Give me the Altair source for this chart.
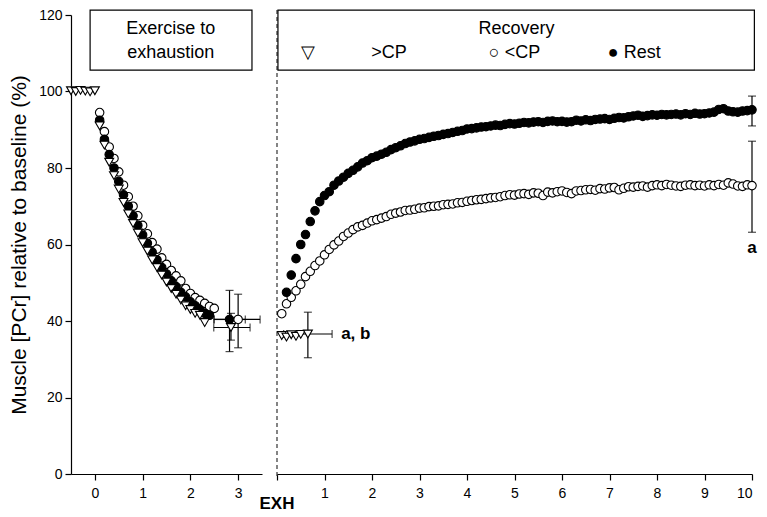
import altair as alt
import pandas as pd

# ---------------- data ----------------
# Exercise-to-exhaustion panel (time, min)
ex_base_x = [-0.5, -0.4, -0.3, -0.2, -0.1, 0.0]
ex_base_tri = [100.2, 100.0, 100.3, 100.1, 99.9, 100.2]

ex_x_open = [0.1, 0.2, 0.3, 0.4, 0.5, 0.6, 0.7, 0.8, 0.9, 1.0, 1.1, 1.2, 1.3,
             1.4, 1.5, 1.6, 1.7, 1.8, 1.9, 2.0, 2.1, 2.2, 2.3, 2.4, 2.5]
ex_open = [94.5, 89.5, 85.5, 82.5, 79.0, 75.5, 72.5, 70.0, 67.5, 65.0, 62.8, 60.5, 58.8,
           56.5, 54.8, 53.2, 51.8, 50.5, 48.5, 47.2, 46.1, 45.4, 44.6, 43.8, 43.3]
ex_x_fill = [0.1, 0.2, 0.3, 0.4, 0.5, 0.6, 0.7, 0.8, 0.9, 1.0, 1.1, 1.2, 1.3,
             1.4, 1.5, 1.6, 1.7, 1.8, 1.9, 2.0, 2.1, 2.2, 2.3, 2.4]
ex_fill = [92.5, 87.5, 83.5, 80.0, 76.5, 73.0, 70.0, 67.5, 65.0, 62.5, 60.3, 58.0, 56.0,
           54.0, 52.3, 50.5, 49.0, 47.5, 46.3, 45.0, 44.0, 43.0, 42.0, 41.5]
ex_x_tri = [0.1, 0.2, 0.3, 0.4, 0.5, 0.6, 0.7, 0.8, 0.9, 1.0, 1.1, 1.2, 1.3,
            1.4, 1.5, 1.6, 1.7, 1.8, 1.9, 2.0, 2.1, 2.2, 2.3]
ex_tri = [91.0, 86.0, 81.5, 78.0, 74.5, 71.0, 68.0, 65.5, 63.0, 60.5, 58.3, 56.0, 54.0,
          52.0, 50.2, 48.5, 47.0, 45.5, 44.0, 43.0, 42.0, 41.5, 39.6]

# exhaustion means with SD (x = time to exhaustion, y = PCr)
exh_group = ["open", "fill", "tri"]
exh_x = [3.0, 2.82, 2.85]
exh_x_lo = [2.49, 2.5, 2.49]
exh_x_hi = [3.46, 3.15, 3.25]
exh_y = [40.4, 40.4, 38.3]
exh_y_lo = [33.0, 32.0, 35.0]
exh_y_hi = [47.0, 48.0, 42.0]

# Recovery panel (time after exhaustion, min)
rec_x_open = [0.1, 0.2, 0.3, 0.4, 0.5, 0.6, 0.7, 0.8, 0.9, 1.0,
              1.1, 1.2, 1.3, 1.4, 1.5, 1.6, 1.7, 1.8, 1.9, 2.0,
              2.1, 2.2, 2.3, 2.4, 2.5, 2.6, 2.7, 2.8, 2.9, 3.0,
              3.1, 3.2, 3.3, 3.4, 3.5, 3.6, 3.7, 3.8, 3.9, 4.0,
              4.1, 4.2, 4.3, 4.4, 4.5, 4.6, 4.7, 4.8, 4.9, 5.0,
              5.1, 5.2, 5.3, 5.4, 5.5, 5.6, 5.7, 5.8, 5.9, 6.0,
              6.1, 6.2, 6.3, 6.4, 6.5, 6.6, 6.7, 6.8, 6.9, 7.0,
              7.1, 7.2, 7.3, 7.4, 7.5, 7.6, 7.7, 7.8, 7.9, 8.0,
              8.1, 8.2, 8.3, 8.4, 8.5, 8.6, 8.7, 8.8, 8.9, 9.0,
              9.1, 9.2, 9.3, 9.4, 9.5, 9.6, 9.7, 9.8, 9.9, 10.0]
rec_open = [41.9, 44.5, 46.2, 47.9, 49.6, 51.6, 53.0, 54.5, 55.7, 57.3,
            58.7, 59.9, 60.9, 62.1, 63.0, 63.9, 64.6, 65.0, 65.6, 66.2,
            66.5, 66.9, 67.3, 67.9, 68.2, 68.5, 68.9, 69.0, 69.2, 69.5,
            69.6, 69.9, 70.0, 70.1, 70.4, 70.5, 70.6, 70.9, 71.0, 71.3,
            71.5, 71.7, 71.8, 72.0, 72.2, 72.3, 72.5, 72.8, 73.0, 72.9,
            73.2, 73.3, 73.1, 73.5, 73.4, 72.8, 73.7, 73.5, 73.8, 74.0,
            73.6, 73.3, 74.0, 74.1, 74.3, 74.4, 74.2, 74.6, 74.5, 74.8,
            74.9, 74.3, 74.7, 75.1, 75.0, 75.2, 75.3, 75.0, 75.4, 75.6,
            75.4, 75.7, 75.5, 75.3, 75.2, 75.5, 75.6, 75.4, 75.5, 75.3,
            75.6, 75.4, 75.7, 75.5, 76.1, 75.8, 75.3, 75.2, 75.6, 75.4]
rec_x_fill = [0.2, 0.3, 0.4, 0.5, 0.6, 0.7, 0.8, 0.9, 1.0,
              1.1, 1.2, 1.3, 1.4, 1.5, 1.6, 1.7, 1.8, 1.9, 2.0,
              2.1, 2.2, 2.3, 2.4, 2.5, 2.6, 2.7, 2.8, 2.9, 3.0,
              3.1, 3.2, 3.3, 3.4, 3.5, 3.6, 3.7, 3.8, 3.9, 4.0,
              4.1, 4.2, 4.3, 4.4, 4.5, 4.6, 4.7, 4.8, 4.9, 5.0,
              5.1, 5.2, 5.3, 5.4, 5.5, 5.6, 5.7, 5.8, 5.9, 6.0,
              6.1, 6.2, 6.3, 6.4, 6.5, 6.6, 6.7, 6.8, 6.9, 7.0,
              7.1, 7.2, 7.3, 7.4, 7.5, 7.6, 7.7, 7.8, 7.9, 8.0,
              8.1, 8.2, 8.3, 8.4, 8.5, 8.6, 8.7, 8.8, 8.9, 9.0,
              9.1, 9.2, 9.3, 9.4, 9.5, 9.6, 9.7, 9.8, 9.9, 10.0]
rec_fill = [47.5, 52.0, 56.3, 60.0, 62.6, 66.0, 68.8, 71.2, 72.8,
            73.8, 75.5, 76.6, 77.6, 78.6, 79.4, 80.3, 81.3, 81.9, 82.7,
            83.1, 83.6, 84.1, 84.8, 85.3, 85.8, 86.4, 86.8, 87.1, 87.5,
            87.7, 88.0, 88.3, 88.5, 88.8, 89.0, 89.3, 89.6, 89.8, 90.2,
            90.3, 90.5, 90.7, 90.8, 91.0, 91.2, 91.1, 91.4, 91.6, 91.5,
            91.7, 91.9, 91.8, 92.0, 92.1, 91.9, 92.2, 92.3, 92.1, 92.2,
            92.0, 92.1, 92.5, 92.3, 92.6, 92.4, 92.7, 92.8, 92.9, 92.7,
            93.0, 93.2, 93.1, 93.4, 93.6, 93.8, 93.5, 93.7, 93.9, 93.8,
            94.0, 93.9, 94.0, 94.1, 93.9, 94.2, 94.0, 94.3, 94.1, 94.2,
            94.4, 94.6, 95.3, 95.5, 94.9, 94.7, 94.6, 94.9, 95.0, 95.2]
rec_x_tri = [0.1, 0.2, 0.3, 0.4, 0.5, 0.65]
rec_tri = [36.2, 35.8, 36.4, 36.0, 36.5, 36.6]

# recovery SD bars
rec_err_x = [0.65, 10.0, 10.0]
rec_err_y_lo = [30.4, 63.2, 91.0]
rec_err_y_hi = [42.3, 87.0, 98.8]
rec_herr_y = [36.6]
rec_herr_x_lo = [0.14]
rec_herr_x_hi = [1.16]

FONT = "Liberation Sans"
H = 459
WL = 191
WR = 475

y_scale = alt.Scale(domain=[0, 120], nice=False, zero=False)

yl_axis = alt.Axis(values=[0, 20, 40, 60, 80, 100, 120], title="Muscle [PCr] relative to baseline (%)",
                   tickSize=6, labelFontSize=14, labelFont=FONT, labelColor="black",
                   titleFont=FONT, titleFontSize=21, titleFontWeight="normal", titleColor="black",
                   titlePadding=9, domainColor="black", tickColor="black", grid=False, labelPadding=3)


def YL(field):
    return alt.Y(field, scale=y_scale, axis=yl_axis)


def YR(field):
    return alt.Y(field, scale=y_scale, axis=None)


def pts(x, y):
    return pd.DataFrame({"x": x, "y": y})


def points(df, X, Y, shape, fill, size=72):
    return alt.Chart(df).mark_point(
        shape=shape, filled=True, fill=fill, stroke="black", strokeWidth=1.1,
        size=size, opacity=1
    ).encode(x=X("x:Q"), y=Y("y:Q"))


def vbars(df, X, Y):
    rule = alt.Chart(df).mark_rule(color="black", strokeWidth=1.2).encode(
        x=X("x:Q"), y=Y("lo:Q"), y2="hi:Q")
    cap_lo = alt.Chart(df).mark_tick(color="black", orient="horizontal", size=8, thickness=1.2).encode(
        x=X("x:Q"), y=Y("lo:Q"))
    cap_hi = alt.Chart(df).mark_tick(color="black", orient="horizontal", size=8, thickness=1.2).encode(
        x=X("x:Q"), y=Y("hi:Q"))
    return rule + cap_lo + cap_hi


def hbars(df, X, Y):
    rule = alt.Chart(df).mark_rule(color="black", strokeWidth=1.2).encode(
        x=X("lo:Q"), x2="hi:Q", y=Y("y:Q"))
    cap_lo = alt.Chart(df).mark_tick(color="black", orient="vertical", size=8, thickness=1.2).encode(
        x=X("lo:Q"), y=Y("y:Q"))
    cap_hi = alt.Chart(df).mark_tick(color="black", orient="vertical", size=8, thickness=1.2).encode(
        x=X("hi:Q"), y=Y("y:Q"))
    return rule + cap_lo + cap_hi


# annotation boxes (data coordinates)
box_y = [105.6]
box_y2 = [121.3]
row1_y = 116.3
row2_y = 110.1

# ---------------- left panel ----------------
xl_scale = alt.Scale(domain=[-0.5, 3.5], nice=False, zero=False)
xl_axis = alt.Axis(values=[0, 1, 2, 3], title=None, tickSize=6, labelFontSize=14,
                   labelFont=FONT, labelColor="black", domainColor="black",
                   tickColor="black", grid=False, labelPadding=6)


def XL(field):
    return alt.X(field, scale=xl_scale, axis=xl_axis)


left_box = alt.Chart(pd.DataFrame({"x": [-0.1], "x2": [3.29], "y": box_y, "y2": box_y2})).mark_rect(
    fill="white", stroke="black", strokeWidth=1.2, clip=False).encode(
    x=XL("x:Q"), x2="x2:Q", y=YL("y:Q"), y2="y2:Q")
left_box_text = alt.Chart(pd.DataFrame({"x": [1.59, 1.59], "y": [row1_y, row2_y],
                                        "t": ["Exercise to", "exhaustion"]})).mark_text(
    font=FONT, fontSize=18, color="black").encode(
    x=XL("x:Q"), y=YL("y:Q"), text="t:N")

ex_open_df = pts(ex_x_open, ex_open)
ex_fill_df = pts(ex_x_fill, ex_fill)
ex_tri_df = pts(ex_base_x + ex_x_tri, ex_base_tri + ex_tri)
exh_df = pd.DataFrame({"g": exh_group, "x": exh_x, "y": exh_y})
exv = pd.DataFrame({"x": exh_x, "lo": exh_y_lo, "hi": exh_y_hi})
exh_h = pd.DataFrame({"y": exh_y, "lo": exh_x_lo, "hi": exh_x_hi})

left = alt.layer(
    left_box, left_box_text,
    hbars(exh_h, XL, YL), vbars(exv, XL, YL),
    points(ex_open_df, XL, YL, "circle", "white"),
    points(ex_fill_df, XL, YL, "circle", "black"),
    points(ex_tri_df, XL, YL, "triangle-down", "white", 80),
    points(exh_df[exh_df.g == "fill"], XL, YL, "circle", "black"),
    points(exh_df[exh_df.g == "tri"], XL, YL, "triangle-down", "white", 80),
    points(exh_df[exh_df.g == "open"], XL, YL, "circle", "white"),
).properties(width=WL, height=H)

# ---------------- right panel ----------------
xr_scale = alt.Scale(domain=[0, 10], nice=False, zero=False)
xr_axis = alt.Axis(values=list(range(0, 11)), title=None, tickSize=6, labelFontSize=14,
                   labelFont=FONT, labelColor="black", domainColor="black", tickColor="black",
                   grid=False, labelPadding=6,
                   labelExpr="datum.value == 0 ? '' : datum.label")


def XR(field):
    return alt.X(field, scale=xr_scale, axis=xr_axis)


dash = alt.Chart(pd.DataFrame({"x": [0]})).mark_rule(
    color="#333333", strokeWidth=1.2, strokeDash=[4, 3]).encode(
    x=XR("x:Q"), y=alt.value(-5), y2=alt.value(H + 3))

right_box = alt.Chart(pd.DataFrame({"x": [0.02], "x2": [10.05], "y": box_y, "y2": box_y2})).mark_rect(
    fill="white", stroke="black", strokeWidth=1.2, clip=False).encode(
    x=XR("x:Q"), x2="x2:Q", y=YR("y:Q"), y2="y2:Q")
right_box_text = alt.Chart(pd.DataFrame({
    "x": [5.04, 0.66, 2.36, 5.0, 7.52],
    "y": [row1_y, row2_y, row2_y, row2_y, row2_y],
    "t": ["Recovery", "▽", ">CP", "○ <CP", "● Rest"]})).mark_text(
    font=FONT, fontSize=18, color="black").encode(
    x=XR("x:Q"), y=YR("y:Q"), text="t:N")

rec_open_df = pts(rec_x_open, rec_open)
rec_fill_df = pts(rec_x_fill, rec_fill)
rec_tri_df = pts(rec_x_tri, rec_tri)
recv = pd.DataFrame({"x": rec_err_x, "lo": rec_err_y_lo, "hi": rec_err_y_hi})
rech = pd.DataFrame({"y": rec_herr_y, "lo": rec_herr_x_lo, "hi": rec_herr_x_hi})

notes = alt.Chart(pd.DataFrame({"x": [1.35], "y": [36.6], "t": ["a, b"]})).mark_text(
    font=FONT, fontSize=17, fontWeight="bold", align="left", color="black").encode(
    x=XR("x:Q"), y=YR("y:Q"), text="t:N")
note_a = alt.Chart(pd.DataFrame({"x": [10.0], "y": [59.0], "t": ["a"]})).mark_text(
    font=FONT, fontSize=17, fontWeight="bold", align="center", color="black").encode(
    x=XR("x:Q"), y=YR("y:Q"), text="t:N")
exh = alt.Chart(pd.DataFrame({"x": [0], "t": ["EXH"]})).mark_text(
    font=FONT, fontSize=17, fontWeight="bold", align="center", baseline="middle", color="black").encode(
    x=XR("x:Q"), y=alt.value(H + 30), text="t:N")

right = alt.layer(
    dash, right_box, right_box_text,
    vbars(recv, XR, YR), hbars(rech, XR, YR),
    points(rec_open_df, XR, YR, "circle", "white"),
    points(rec_fill_df, XR, YR, "circle", "black"),
    points(rec_tri_df, XR, YR, "triangle-down", "white", 80),
    notes, note_a, exh,
).properties(width=WR, height=H)

chart = alt.hconcat(left, right, spacing=15, bounds="flush").properties(
    padding={"left": 0, "top": 0, "right": 0, "bottom": 0}
).configure_view(stroke=None).configure_axis(domainWidth=1.2, tickWidth=1.2)

chart.save("out.html", embed_options={"renderer": "svg", "actions": False})
